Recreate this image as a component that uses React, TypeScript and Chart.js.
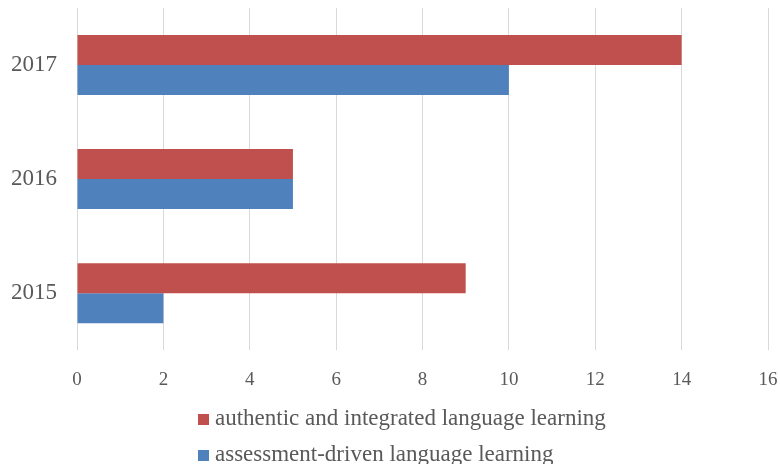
import React, { useEffect, useRef } from "react";
import { Chart, registerables } from "chart.js";

Chart.register(...registerables);

const categories = ["2017", "2016", "2015"];
const seriesNames = [
  "authentic and integrated language learning",
  "assessment-driven language learning",
];
const authenticValues = [14, 5, 9];
const assessmentValues = [10, 5, 2];
const xTicks = [0, 2, 4, 6, 8, 10, 12, 14, 16];

const FONT = "'Liberation Serif', 'Times New Roman', serif";
const TEXT = "#595959";

const bottomLegend = {
  id: "bottomLegend",
  afterDraw(chart: any) {
    const ctx = chart.ctx;
    ctx.save();
    ctx.font = `23px ${FONT}`;
    ctx.textBaseline = "middle";
    ctx.textAlign = "left";
    const x0 = 198;
    const rows = [419, 455];
    chart.data.datasets.forEach((ds: any, i: number) => {
      const y = rows[i];
      ctx.fillStyle = ds.backgroundColor;
      ctx.fillRect(x0, y - 5, 11, 11);
      ctx.fillStyle = TEXT;
      ctx.fillText(ds.label, x0 + 17, y);
    });
    ctx.restore();
  },
};

export default function App() {
  const ref = useRef<HTMLCanvasElement>(null);
  useEffect(() => {
    if (!ref.current) return;
    const chart = new Chart(ref.current, {
      type: "bar",
      data: {
        labels: categories,
        datasets: [
          {
            label: seriesNames[0],
            data: authenticValues,
            backgroundColor: "#C0504D",
            categoryPercentage: 0.526,
            barPercentage: 1,
          },
          {
            label: seriesNames[1],
            data: assessmentValues,
            backgroundColor: "#4F81BD",
            categoryPercentage: 0.526,
            barPercentage: 1,
          },
        ],
      },
      options: {
        indexAxis: "y",
        animation: false,
        responsive: false,
        maintainAspectRatio: false,
        layout: { padding: { left: 11, right: 12, top: 8, bottom: 73 } },
        plugins: {
          legend: { display: false },
          tooltip: { enabled: false },
        },
        scales: {
          x: {
            min: 0,
            max: 16,
            afterBuildTicks: (axis: any) => {
              axis.ticks = xTicks.map((v) => ({ value: v }));
            },
            afterFit: (axis: any) => {
              axis.paddingLeft = 0;
              axis.paddingRight = 0;
              axis.height -= axis.options.ticks.padding;
            },
            grid: { color: "#D9D9D9", lineWidth: 1, drawTicks: false },
            border: { display: false },
            ticks: {
              color: TEXT,
              font: { family: FONT, size: 19 },
              padding: 18,
              maxRotation: 0,
            },
          },
          y: {
            afterFit: (axis: any) => {
              axis.paddingTop = 0;
              axis.paddingBottom = 0;
              axis.width -= axis.options.ticks.padding;
            },
            grid: { display: false, drawTicks: false },
            border: { display: false },
            ticks: {
              color: TEXT,
              font: { family: FONT, size: 23 },
              padding: 20,
            },
          },
        },
      },
      plugins: [bottomLegend],
    });
    return () => chart.destroy();
  }, []);
  return (
    <div style={{ position: "fixed", left: 0, top: 0, width: 780, height: 464, background: "#fff" }}>
      <canvas ref={ref} width={780} height={464} style={{ width: 780, height: 464, display: "block" }} />
    </div>
  );
}
